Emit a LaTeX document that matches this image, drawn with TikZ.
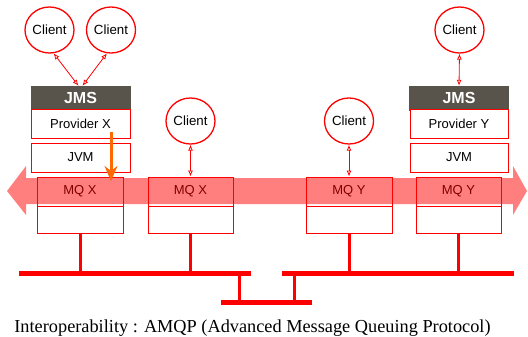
\documentclass[tikz,border=0pt]{standalone}
\usepackage{fontspec}
\setmainfont{Liberation Serif}
\setsansfont{Liberation Sans}
\usetikzlibrary{shapes.geometric,arrows.meta}
\definecolor{hdr}{HTML}{58534B}
\definecolor{orng}{HTML}{FF6A00}
\tikzset{
  client/.style={ellipse,draw=red,line width=1.3pt,fill=white,minimum width=49pt,minimum height=46pt,inner sep=0pt,font=\sffamily\fontsize{13.3}{13.3}\selectfont},
  hdrbox/.style={rectangle,fill=hdr,draw=hdr,minimum width=99pt,minimum height=24pt,inner sep=0pt,text=white,font=\sffamily\bfseries\fontsize{16}{16}\selectfont},
  plainbox/.style={rectangle,draw=red,line width=1pt,fill=white,inner sep=0pt,font=\sffamily\fontsize{13}{13}\selectfont},
  mqbox/.style={rectangle,draw=red,line width=1pt,inner sep=0pt,minimum height=29pt,font=\sffamily\fontsize{13}{13}\selectfont},
  mqlow/.style={rectangle,draw=red,line width=1pt,fill=white,inner sep=0pt,minimum height=27pt},
  link/.style={draw=red,line width=0.8pt,{Latex[length=6pt,width=5pt,open]}-{Latex[length=6pt,width=5pt,open]}},
  bus/.style={draw=red,line width=5pt},
  stem/.style={draw=red,line width=3pt},
}
\begin{document}
\begin{tikzpicture}[x=1pt,y=-1pt]
\useasboundingbox (0,0) rectangle (528,337);
% clients
\node[client] (c1) at (49.5,30) {Client};
\node[client] (c2) at (111,30) {Client};
\node[client] (c3) at (190.5,121) {Client};
\node[client] (c4) at (349,121) {Client};
\node[client] (c5) at (459.5,30) {Client};
% provider X
\node[hdrbox] (jmsx) at (80.5,98) {JMS};
\node[plainbox,minimum width=99pt,minimum height=28pt] (provx) at (80.5,124) {Provider X};
\node[plainbox,minimum width=99pt,minimum height=29pt] (jvmx) at (80.5,157.5) {JVM};
% provider Y
\node[hdrbox] (jmsy) at (459,98) {JMS};
\node[plainbox,minimum width=98pt,minimum height=28pt] (provy) at (459,124) {Provider Y};
\node[plainbox,minimum width=98pt,minimum height=29pt] (jvmy) at (459,157.5) {JVM};
% MQ boxes
\node[mqlow,minimum width=86pt] (m1b) at (80,219.5) {};
\node[mqlow,minimum width=85pt] (m2b) at (190.5,219.5) {};
\node[mqlow,minimum width=86pt] (m3b) at (349,219.5) {};
\node[mqlow,minimum width=85pt] (m4b) at (458.5,219.5) {};
\node[mqbox,minimum width=86pt] (m1) at (80,191.5) {MQ X};
\node[mqbox,minimum width=85pt] (m2) at (190.5,191.5) {MQ X};
\node[mqbox,minimum width=86pt] (m3) at (349,191.5) {MQ Y};
\node[mqbox,minimum width=85pt] (m4) at (458.5,191.5) {MQ Y};
% band
\fill[red,opacity=0.5] (7,191) -- (26,166) -- (26,178) -- (513,178) -- (513,166) -- (527,191) -- (513,215) -- (513,204) -- (26,204) -- (26,215) -- cycle;
% links
\draw[link] (c1.-80) -- ([xshift=-2pt]jmsx.north);
\draw[link] (c2.-100) -- ([xshift=2pt]jmsx.north);
\draw[link] (c3.south) -- (m2.north);
\draw[link] (c4.south) -- (m3.north);
\draw[link] (c5.south) -- (jmsy.north);
% orange arrow
\coordinate (os) at (111,132);
\coordinate (oe) at (111,181);
\draw[draw=orng,line width=3pt,-{Stealth[length=15pt,width=13pt,inset=5pt]}] (os) -- (oe);
% buses
\coordinate (bl1) at (19,273);
\coordinate (bl2) at (251,273);
\coordinate (br1) at (282,273);
\coordinate (br2) at (514,273);
\coordinate (lb1) at (221,302);
\coordinate (lb2) at (312,302);
\coordinate (dl) at (239,273);
\coordinate (dr) at (294,273);
\draw[stem] (m1b.south) -- (m1b.south |- bl1);
\draw[stem] (m2b.south) -- (m2b.south |- bl1);
\draw[stem] (m3b.south) -- (m3b.south |- br1);
\draw[stem] (m4b.south) -- (m4b.south |- br1);
\draw[stem] (dl) -- (dl |- lb1);
\draw[stem] (dr) -- (dr |- lb1);
\draw[bus] (bl1) -- (bl2);
\draw[bus] (br1) -- (br2);
\draw[bus] (lb1) -- (lb2);
% caption
\node[font=\fontsize{18.3}{18.3}\selectfont,anchor=base] (cap) at (252.5,332) {Interoperability : AMQP (Advanced Message Queuing Protocol)};
\end{tikzpicture}
\end{document}
